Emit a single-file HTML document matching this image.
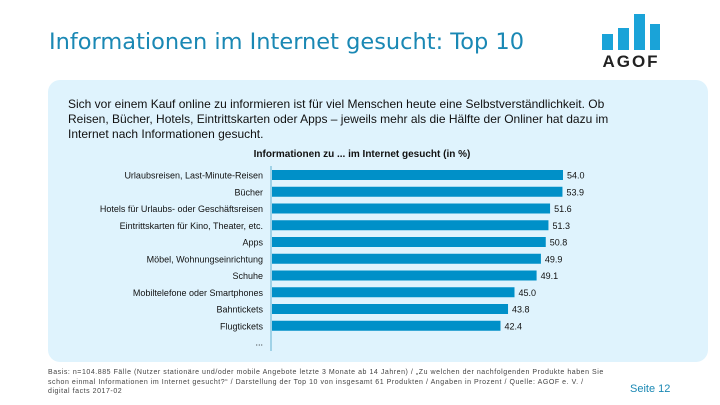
<!DOCTYPE html>
<html><head><meta charset="utf-8"><style>
body{margin:0;width:720px;height:405px;background:#fff;font-family:"Liberation Sans",sans-serif;position:relative;overflow:hidden}
.a{position:absolute}
</style></head><body>
<svg class="a" style="left:0;top:0" width="600" height="70"><text x="49" y="49" font-size="22" fill="#1a88b4" textLength="475" lengthAdjust="spacingAndGlyphs" font-family="DejaVu Sans, Liberation Sans, sans-serif">Informationen im Internet gesucht: Top 10</text></svg>
<svg class="a" style="left:596px;top:10px" width="80" height="60">
<rect x="6" y="24" width="11" height="16" fill="#1aa3d8"/><rect x="22" y="18" width="11" height="22" fill="#1aa3d8"/><rect x="38" y="4" width="11" height="36" fill="#1aa3d8"/><rect x="54" y="14" width="10" height="26" fill="#1aa3d8"/>
<text x="35" y="57" text-anchor="middle" font-size="17" font-weight="bold" fill="#222" letter-spacing="2" font-family="Liberation Sans">AGOF</text></svg>
<div class="a" style="left:48px;top:80px;width:660px;height:282px;background:#dff3fd;border-radius:12px"></div>
<div class="a" style="left:68px;top:97px;width:580px;font-size:12px;line-height:15px;color:#111">Sich vor einem Kauf online zu informieren ist für viel Menschen heute eine Selbstverständlichkeit. Ob Reisen, Bücher, Hotels, Eintrittskarten oder Apps – jeweils mehr als die Hälfte der Onliner hat dazu im Internet nach Informationen gesucht.</div>
<svg class="a" id="chart" style="left:0;top:0" width="720" height="405"></svg>
<div class="a" style="left:48px;top:368px;width:556px;font-size:7px;line-height:9.5px;letter-spacing:0.55px;color:#444">Basis: n=104.885 Fälle (Nutzer stationäre und/oder mobile Angebote letzte 3 Monate ab 14 Jahren) / „Zu welchen der nachfolgenden Produkte haben Sie schon einmal Informationen im Internet gesucht?“ / Darstellung der Top 10 von insgesamt 61 Produkten / Angaben in Prozent / Quelle: AGOF e. V. / digital facts 2017-02</div>
<div class="a" style="left:630px;top:383px;font-size:11px;color:#1a88b4">Seite 12</div>
<script>
const categories=["Urlaubsreisen, Last-Minute-Reisen","Bücher","Hotels für Urlaubs- oder Geschäftsreisen","Eintrittskarten für Kino, Theater, etc.","Apps","Möbel, Wohnungseinrichtung","Schuhe","Mobiltelefone oder Smartphones","Bahntickets","Flugtickets"];
const values=[54.0,53.9,51.6,51.3,50.8,49.9,49.1,45.0,43.8,42.4];
const valueLabels=["54.0","53.9","51.6","51.3","50.8","49.9","49.1","45.0","43.8","42.4"];
const svg=document.getElementById('chart');const NS="http://www.w3.org/2000/svg";
const x0=272,scale=291/54,y0=175,step=16.75,bh=10;
const xs=v=>x0+v*scale, ys=i=>y0+i*step;
function mk(t,a){const e=document.createElementNS(NS,t);for(const k in a)e.setAttribute(k,a[k]);svg.appendChild(e);return e;}
let t=mk('text',{x:362,y:157,'text-anchor':'middle','font-size':10,'font-weight':'bold',fill:'#111'});t.textContent="Informationen zu ... im Internet gesucht (in %)";


let ax=mk('line',{x1:271,x2:271,y1:166,y2:351,stroke:'#8cc8e0','stroke-width':1.5});


categories.forEach((c,i)=>{
 const y=ys(i);
 const r=mk('rect',{x:x0,y:y-bh/2,width:xs(values[i])-x0,height:bh,fill:'#0090c8'});
 
 
 const l=mk('text',{x:263,y:y+3.5,'text-anchor':'end','font-size':9,fill:'#111'});l.textContent=c;
 
 
 const v=mk('text',{x:xs(values[i])+4,y:y+3.5,'font-size':9,fill:'#111'});v.textContent=valueLabels[i];
 
 
});
const d=mk('text',{x:263,y:ys(10)+3,'text-anchor':'end','font-size':9,fill:'#111'});d.textContent="...";


</script>
</body></html>
